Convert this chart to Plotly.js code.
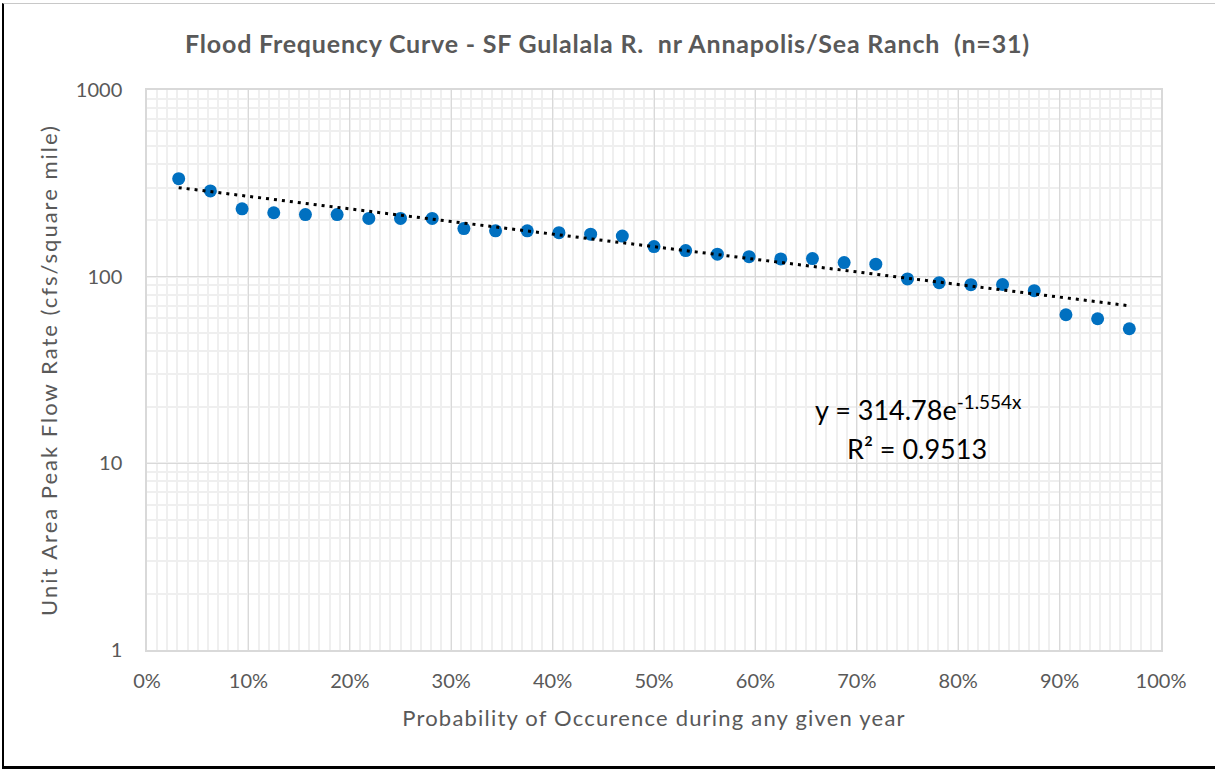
<!DOCTYPE html>
<html>
<head>
<meta charset="utf-8">
<script src="https://cdn.plot.ly/plotly-3.0.1.min.js"></script>
<style>
  html, body { margin: 0; padding: 0; background: #ffffff; }
  #wrap { position: relative; width: 1215px; height: 769px; }
  #chart { width: 1215px; height: 769px; }
  #frame { position: absolute; left: 2px; top: 3px; width: 1213px; height: 766px;
           border-left: 2px solid #000; border-top: 1px solid #c8c8c8; border-bottom: 3px solid #000;
           box-sizing: border-box; pointer-events: none; }
  .xtitle { letter-spacing: 1.2px; }
  .ytitle { letter-spacing: 2px; }
  .gtitle { letter-spacing: 0.8px; }
</style>
</head>
<body>
<div id="wrap">
  <div id="chart"></div>
  <div id="frame"></div>
</div>
<script>
// Probability of occurrence (plotting positions, rank/(n+1), n = 31)
const probability = [0.03125, 0.0625, 0.09375, 0.125, 0.15625, 0.1875, 0.21875, 0.25,
  0.28125, 0.3125, 0.34375, 0.375, 0.40625, 0.4375, 0.46875, 0.5, 0.53125, 0.5625,
  0.59375, 0.625, 0.65625, 0.6875, 0.71875, 0.75, 0.78125, 0.8125, 0.84375, 0.875,
  0.90625, 0.9375, 0.96875];

// Unit area peak flow rate (cfs/square mile)
const unitFlow = [335, 288, 231, 220, 215, 215, 205, 205, 205, 181, 176, 176, 172, 169,
  165, 145, 138, 132, 128, 124.5, 125, 119, 116.6, 97.2, 92.9, 90.6, 90.8, 84.1,
  62.5, 59.5, 52.6];

// Exponential trendline as printed on the chart: y = 314.78 e^(-1.554x)
const trendA = 314.78;
const trendB = -1.554;
const trendX = [probability[0], probability[probability.length - 1]];
const trendY = trendX.map(x => trendA * Math.exp(trendB * x));

const xTickVals = [0, 0.1, 0.2, 0.3, 0.4, 0.5, 0.6, 0.7, 0.8, 0.9, 1.0];
const xTickText = ['0%', '10%', '20%', '30%', '40%', '50%', '60%', '70%', '80%', '90%', '100%'];
const yTickVals = [1, 10, 100, 1000];
const yTickText = ['1', '10', '100', '1000'];

const titleText = 'Flood Frequency Curve - SF Gulalala R.  nr Annapolis/Sea Ranch  (n=31)';
const xTitle = 'Probability of Occurence during any given year';
const yTitle = 'Unit Area Peak Flow Rate (cfs/square mile)';
const eqLine1 = 'y = 314.78e<sup>-1.554x</sup>';
const eqLine2 = 'R² = 0.9513';

const FONT = 'Lato, "Open Sans", sans-serif';
const GREY = '#595959';

const traces = [
  {
    x: probability, y: unitFlow, type: 'scatter', mode: 'markers',
    marker: { color: '#0070C0', size: 13 },
    hoverinfo: 'x+y', showlegend: false
  },
  {
    x: trendX, y: trendY, type: 'scatter', mode: 'lines',
    line: { color: '#000000', width: 3, dash: '3px,5px' },
    hoverinfo: 'skip', showlegend: false
  }
];

const layout = {
  width: 1215, height: 769,
  paper_bgcolor: '#ffffff', plot_bgcolor: '#ffffff',
  margin: { l: 147, r: 54, t: 90, b: 119 },
  font: { family: FONT, color: GREY, size: 20 },
  title: {
    text: titleText,
    font: { family: FONT, size: 25, color: GREY, weight: 'bold' },
    xref: 'container', x: 0.5, xanchor: 'center',
    yref: 'container', y: 1 - 44 / 769, yanchor: 'middle'
  },
  xaxis: {
    range: [0, 1],
    tickvals: xTickVals, ticktext: xTickText,
    tickfont: { family: FONT, size: 20, color: GREY },
    ticks: '', ticklabelstandoff: 12,
    showgrid: true, gridcolor: '#d9d9d9', gridwidth: 1,
    minor: { dtick: 0.01, showgrid: true, gridcolor: '#efefef', gridwidth: 1.5, ticks: '' },
    showline: true, linecolor: '#d9d9d9', linewidth: 1.5, mirror: true,
    zeroline: false,
    title: { text: xTitle, font: { family: FONT, size: 22, color: GREY }, standoff: 20 }
  },
  yaxis: {
    type: 'log', range: [0, 3],
    tickvals: yTickVals, ticktext: yTickText,
    tickfont: { family: FONT, size: 20, color: GREY },
    ticks: '', ticklabelstandoff: 19,
    showgrid: true, gridcolor: '#d9d9d9', gridwidth: 1,
    minor: { dtick: 'D1', showgrid: true, gridcolor: '#efefef', gridwidth: 1.5, ticks: '' },
    showline: true, linecolor: '#d9d9d9', linewidth: 1.5, mirror: true,
    zeroline: false,
    title: { text: yTitle, font: { family: FONT, size: 22, color: GREY }, standoff: 12 }
  },
  annotations: [
    {
      text: eqLine1, xref: 'paper', yref: 'paper',
      x: (918 - 147) / 1014, y: (650 - 408) / 560, xanchor: 'center', yanchor: 'middle',
      showarrow: false, font: { family: FONT, size: 27, color: '#000000' }
    },
    {
      text: eqLine2, xref: 'paper', yref: 'paper',
      x: (917 - 147) / 1014, y: (650 - 448) / 560, xanchor: 'center', yanchor: 'middle',
      showarrow: false, font: { family: FONT, size: 27, color: '#000000' }
    }
  ]
};

Plotly.newPlot('chart', traces, layout, { displayModeBar: false, responsive: false });
</script>
</body>
</html>
